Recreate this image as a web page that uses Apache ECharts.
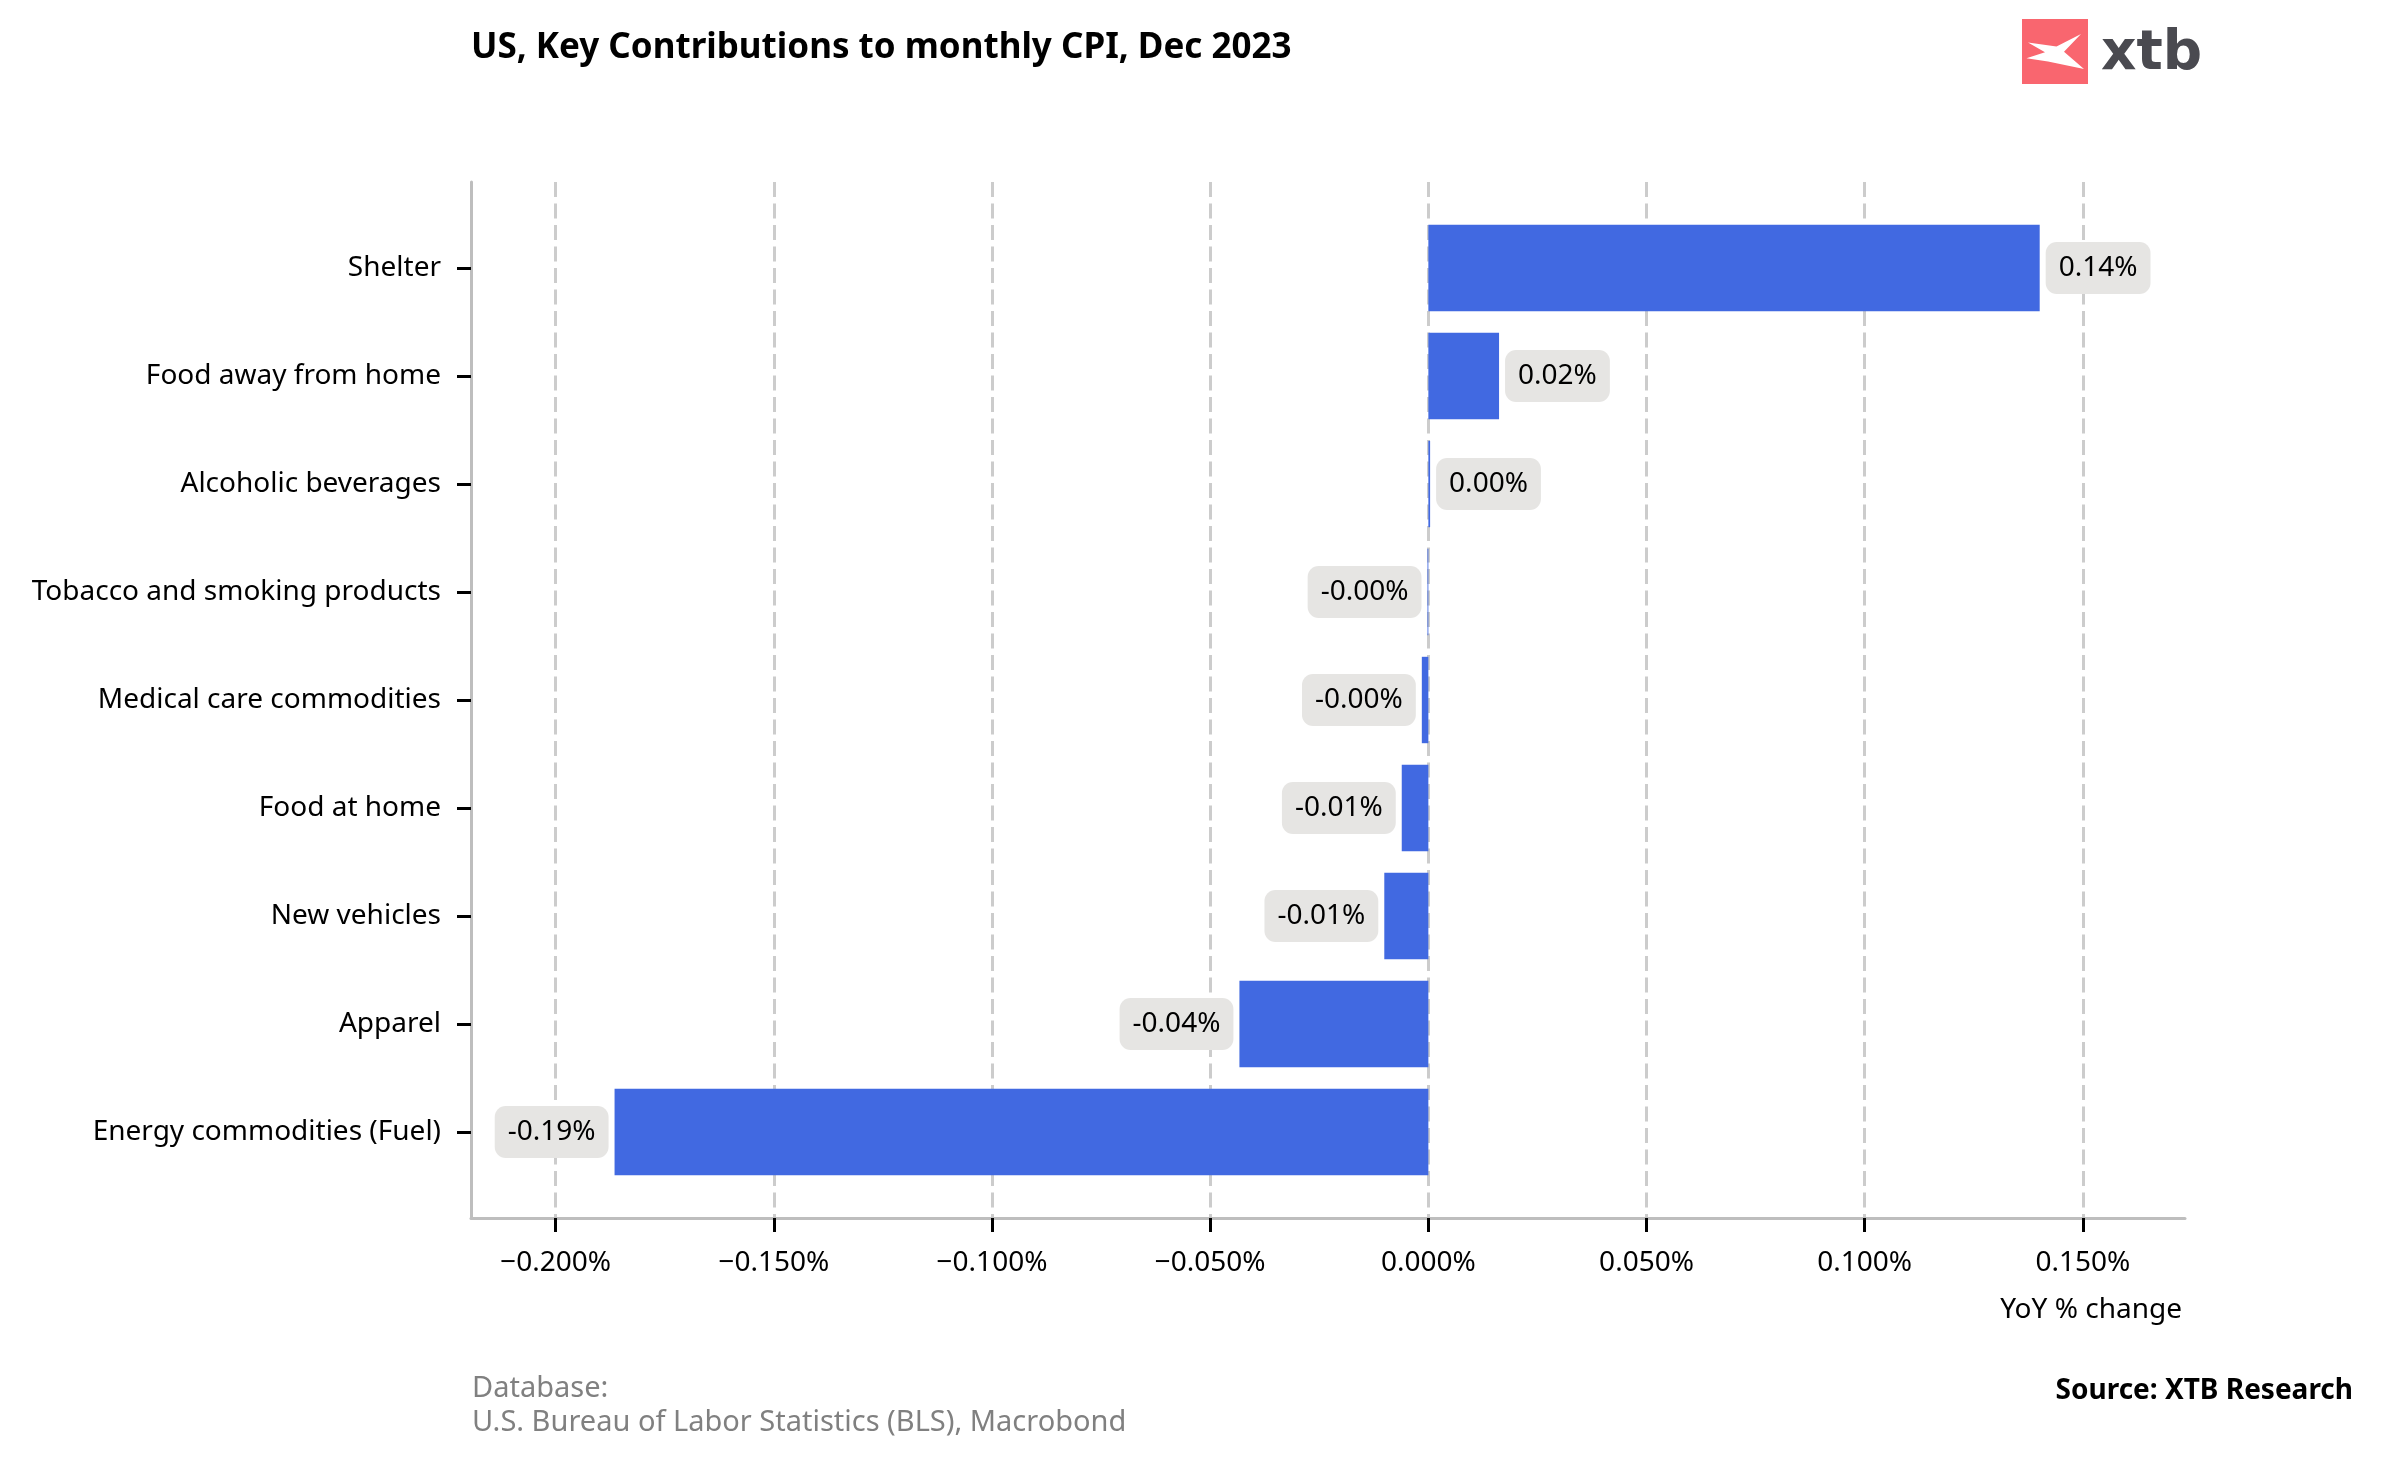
<!DOCTYPE html>
<html>
<head>
<meta charset="utf-8">
<script src="https://cdn.jsdelivr.net/npm/echarts@6/dist/echarts.min.js"></script>
<style>
html,body{margin:0;padding:0;background:#fff;}
#chart{width:2384px;height:1466px;}
</style>
</head>
<body>
<div id="chart"></div>
<script>
// ---- data ----
const categories = [
  'Shelter',
  'Food away from home',
  'Alcoholic beverages',
  'Tobacco and smoking products',
  'Medical care commodities',
  'Food at home',
  'New vehicles',
  'Apparel',
  'Energy commodities (Fuel)'
];
const contributions = [0.1401, 0.0162, 0.0004, -0.0002, -0.0015, -0.0061, -0.0101, -0.0433, -0.1865];
const xTicks = [-0.2, -0.15, -0.1, -0.05, 0, 0.05, 0.1, 0.15];
const xMin = -0.2194, xMax = 0.1734;

const titleText = 'US, Key Contributions to monthly CPI, Dec 2023';
const axisNameText = 'YoY % change';
const dbText = 'Database:\nU.S. Bureau of Labor Statistics (BLS), Macrobond';
const sourceText = 'Source: XTB Research';

// ---- chart ----
const FONT = '"Noto Sans", sans-serif';
const chart = echarts.init(document.getElementById('chart'), null, {renderer: 'canvas'});

const fmtTick = v => (v < 0 ? '\u2212' : '') + Math.abs(v).toFixed(3) + '%';

const option = {
  backgroundColor: '#ffffff',
  animation: false,
  title: [
    {text: titleText, left: 471, top: 31, padding: 0,
     textStyle: {fontFamily: FONT, fontWeight: 'bold', fontSize: 35, color: '#000'}},
    {text: axisNameText, right: 202, top: 1296, padding: 0,
     textStyle: {fontFamily: FONT, fontWeight: 'normal', fontSize: 28, color: '#000'}},
    {text: dbText, left: 472, top: 1372, padding: 0,
     textStyle: {fontFamily: FONT, fontWeight: 'normal', fontSize: 29, lineHeight: 34, color: '#808080'}},
    {text: sourceText, right: 31, top: 1377, padding: 0,
     textStyle: {fontFamily: FONT, fontWeight: 'bold', fontSize: 28, color: '#000'}}
  ],
  grid: [
    {left: 471, right: 199, top: 182, bottom: 248, containLabel: false},
    {left: 471, right: 199, top: 214, bottom: 280, containLabel: false}
  ],
  xAxis: [
    {
      type: 'value', gridIndex: 0, min: xMin, max: xMax,
      axisLine: {show: true, onZero: false, lineStyle: {color: '#bebebe', width: 3}},
      axisTick: {show: true, customValues: xTicks, length: 14, lineStyle: {color: '#000', width: 3}},
      axisLabel: {show: true, customValues: xTicks, formatter: fmtTick, margin: 31,
                  fontFamily: FONT, fontSize: 28, color: '#000'},
      splitLine: {show: true, lineStyle: {color: '#cccccc', width: 3, type: [15, 6.5]}}
    },
    {
      type: 'value', gridIndex: 1, min: xMin, max: xMax, show: false,
      splitLine: {show: false}
    }
  ],
  yAxis: [
    {
      type: 'value', gridIndex: 0, min: 0, max: 1,
      axisLine: {show: true, onZero: false, lineStyle: {color: '#bebebe', width: 3}},
      axisTick: {show: false}, axisLabel: {show: false}, splitLine: {show: false}
    },
    {
      type: 'category', gridIndex: 1, data: categories, inverse: true,
      axisLine: {show: false, onZero: false},
      axisTick: {show: true, alignWithLabel: true, length: 14, lineStyle: {color: '#000', width: 3}},
      axisLabel: {show: true, margin: 30, padding: [5, 0, 0, 0], fontFamily: FONT, fontSize: 28, color: '#000'},
      splitLine: {show: false}
    }
  ],
  series: [
    {
      type: 'bar', xAxisIndex: 1, yAxisIndex: 1,
      barWidth: '80%',
      itemStyle: {color: '#4169e1'},
      label: {
        show: true,
        formatter: p => p.value.toFixed(2) + '%',
        fontFamily: FONT, fontSize: 28, color: '#000', lineHeight: 28,
        backgroundColor: '#e6e5e3', padding: [12, 13], borderRadius: 11, distance: 6
      },
      data: contributions.map(v => ({value: v, label: {position: v < 0 ? 'left' : 'right'}}))
    }
  ],
  graphic: [
    {type: 'rect', shape: {x: 2022, y: 19, width: 66, height: 65}, style: {fill: '#f9666f'}},
    {type: 'polygon', shape: {points: [[2028, 42.5], [2056.5, 46.5], [2081, 34], [2064, 51.7], [2084, 69], [2048, 61.5], [2026.5, 58.3], [2045, 52.3]]},
     style: {fill: '#ffffff'}},
    {type: 'text', x: 2101, y: 27, style: {text: 'xtb', fill: '#4a4a50', font: 'bold 55px "DejaVu Sans", sans-serif', align: 'left', verticalAlign: 'top'}}
  ]
};
chart.setOption(option);
</script>
</body>
</html>
